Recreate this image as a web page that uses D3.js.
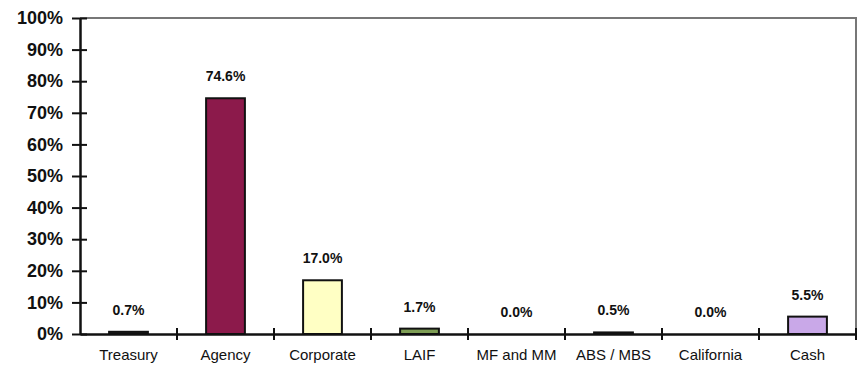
<!DOCTYPE html>
<html>
<head>
<meta charset="utf-8">
<script src="https://cdn.jsdelivr.net/npm/d3@7"></script>
<style>
  html, body { margin: 0; padding: 0; background: #fff; }
  svg { display: block; font-family: "Liberation Sans", Arial, sans-serif; }
</style>
</head>
<body>
<svg id="chart" width="862" height="366"></svg>
<script>
// Portfolio allocation by sector
const categories = ["Treasury", "Agency", "Corporate", "LAIF", "MF and MM", "ABS / MBS", "California", "Cash"];
const shares = [0.7, 74.6, 17.0, 1.7, 0.0, 0.5, 0.0, 5.5];
const fills = ["#222222", "#8c1a4b", "#ffffc4", "#7e9e55", "#ffffff", "#222222", "#ffffff", "#c9a8e8"];
const yTicks = [0, 10, 20, 30, 40, 50, 60, 70, 80, 90, 100];

const svg = d3.select("#chart");
const plotLeft = 80, plotRight = 856, plotTop = 18, plotBottom = 334;

const x = d3.scaleBand().domain(categories).range([plotLeft, plotRight]).paddingInner(0).paddingOuter(0);
const y = d3.scaleLinear().domain([0, 100]).range([plotBottom, plotTop]);
const barW = x.bandwidth() * 0.4;

// plot frame: top and right edges in grey
svg.append("path")
  .attr("d", `M${plotLeft},${plotTop}H${plotRight}V${plotBottom}`)
  .attr("fill", "none").attr("stroke", "#777").attr("stroke-width", 2);

// bars
svg.selectAll("rect.bar").data(categories).join("rect")
  .attr("class", "bar")
  .attr("x", (d) => x(d) + (x.bandwidth() - barW) / 2)
  .attr("width", barW)
  .attr("y", (d, i) => y(shares[i]))
  .attr("height", (d, i) => plotBottom - y(shares[i]))
  .attr("fill", (d, i) => fills[i])
  .attr("stroke", "#111").attr("stroke-width", 2)
  .attr("visibility", (d, i) => shares[i] > 0 ? "visible" : "hidden");

// value labels
svg.selectAll("text.val").data(categories).join("text")
  .attr("class", "val")
  .attr("x", (d) => x(d) + x.bandwidth() / 2)
  .attr("y", (d, i) => y(shares[i]) - 17)
  .attr("text-anchor", "middle")
  .attr("font-size", 14).attr("font-weight", "bold").attr("fill", "#111")
  .text((d, i) => shares[i].toFixed(1) + "%");

// y axis
const yAxis = d3.axisLeft(y).tickValues(yTicks).tickFormat((d) => d + "%").tickSize(0).tickPadding(17);
const gy = svg.append("g").attr("transform", `translate(${plotLeft},0)`).call(yAxis);
gy.select(".domain").attr("stroke", "#111").attr("stroke-width", 2.5);
gy.selectAll(".tick text")
  .attr("font-size", 18).attr("font-weight", "bold").attr("fill", "#111")
  .attr("font-family", "\"Liberation Sans\", Arial, sans-serif");
gy.selectAll(".tick").append("line")
  .attr("x1", -8).attr("x2", 7).attr("stroke", "#111").attr("stroke-width", 2);

// x axis
const xAxis = d3.axisBottom(x).tickSize(0).tickPadding(15);
const gx = svg.append("g").attr("transform", `translate(0,${plotBottom})`).call(xAxis);
gx.select(".domain").attr("stroke", "#111").attr("stroke-width", 2.5);
gx.selectAll(".tick text")
  .attr("font-size", 15).attr("fill", "#111")
  .attr("font-family", "\"Liberation Sans\", Arial, sans-serif");

// category separators on the x axis
const seps = categories.slice(1).map((d) => x(d)).concat([plotRight]);
svg.selectAll("line.sep").data(seps).join("line")
  .attr("class", "sep")
  .attr("x1", (d) => d).attr("x2", (d) => d)
  .attr("y1", plotBottom - 6).attr("y2", plotBottom + 6)
  .attr("stroke", "#111").attr("stroke-width", 2);
</script>
</body>
</html>
